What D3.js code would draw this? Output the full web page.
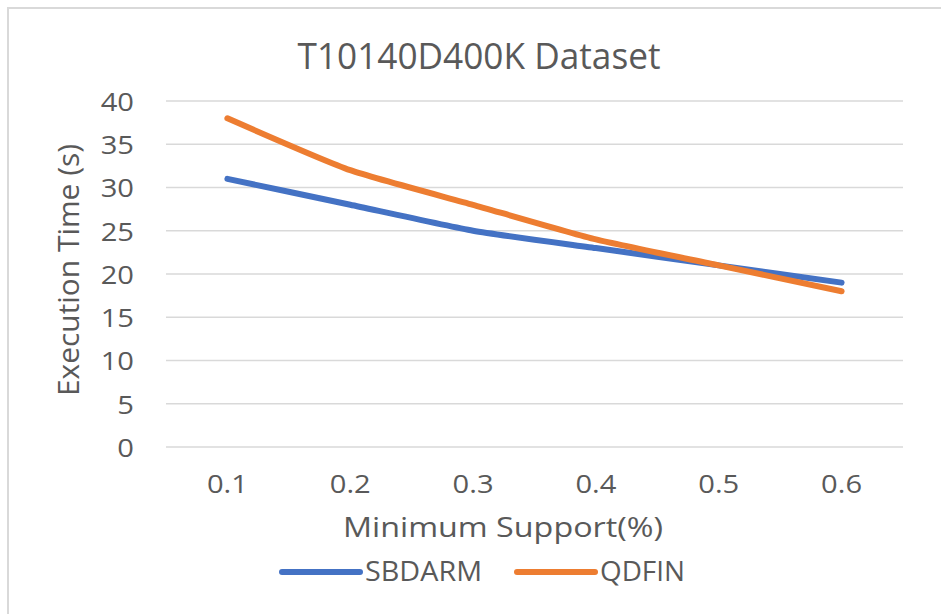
<!DOCTYPE html>
<html>
<head>
<meta charset="utf-8">
<script src="https://cdn.jsdelivr.net/npm/d3@7"></script>
<style>
  html, body { margin: 0; padding: 0; background: #fff; }
  svg { display: block; }
  text { font-family: "Open Sans", "Noto Sans", sans-serif; fill: #595959; }
</style>
</head>
<body>
<script>
// Chart data
const supports = ["0.1", "0.2", "0.3", "0.4", "0.5", "0.6"];
const sbdarm = [31, 28, 25, 23, 21, 19];
const qdfin = [38, 32, 28, 24, 21, 18];
const yTicks = [0, 5, 10, 15, 20, 25, 30, 35, 40];
const seriesNames = ["SBDARM", "QDFIN"];
const seriesColors = ["#4472C4", "#ED7D31"];

const W = 941, H = 614;
const plot = { left: 166, right: 903, top: 101, bottom: 447 };

const svg = d3.select("body").append("svg")
  .attr("width", W).attr("height", H);

// Chart-area frame (top and left edges visible)
svg.append("path")
  .attr("d", `M8,${H} L8,8 L${W},8`)
  .attr("fill", "none")
  .attr("stroke", "#d9d9d9")
  .attr("stroke-width", 2);

const x = d3.scaleBand().domain(supports).range([plot.left, plot.right]);
const y = d3.scaleLinear().domain([0, 40]).range([plot.bottom, plot.top]);

// stretch a text element horizontally to a given factor of its natural width
function widen(sel, k) {
  sel.each(function () {
    const w = this.getComputedTextLength();
    d3.select(this).attr("textLength", w * k).attr("lengthAdjust", "spacingAndGlyphs");
  });
}

// Gridlines
svg.append("g").selectAll("line").data(yTicks).join("line")
  .attr("x1", plot.left).attr("x2", plot.right)
  .attr("y1", d => y(d)).attr("y2", d => y(d))
  .attr("stroke", "#d9d9d9").attr("stroke-width", 1.5);

// Y axis labels
const yAxis = svg.append("g")
  .attr("transform", `translate(${plot.left - 32},0)`)
  .call(d3.axisLeft(y).tickValues(yTicks).tickSize(0).tickPadding(0));
yAxis.select(".domain").remove();
yAxis.selectAll("text")
  .attr("font-size", 26)
  .attr("fill", "#595959")
  .attr("font-family", "Open Sans, Noto Sans, sans-serif")
  .attr("dy", "0.36em")
  .call(widen, 1.12);

// X axis labels
const xAxis = svg.append("g")
  .attr("transform", `translate(0,${plot.bottom + 28})`)
  .call(d3.axisBottom(x).tickSize(0).tickPadding(0));
xAxis.select(".domain").remove();
xAxis.selectAll("text")
  .attr("font-size", 26)
  .attr("fill", "#595959")
  .attr("font-family", "Open Sans, Noto Sans, sans-serif")
  .attr("dy", "0.71em")
  .call(widen, 1.12);

// Series lines (lightly smoothed)
const line = d3.line()
  .x((d, i) => x(supports[i]) + x.bandwidth() / 2)
  .y(d => y(d))
  .curve(d3.curveCardinal.tension(0.45));

[sbdarm, qdfin].forEach((vals, i) => {
  svg.append("path")
    .datum(vals)
    .attr("d", line)
    .attr("fill", "none")
    .attr("stroke", seriesColors[i])
    .attr("stroke-width", 6)
    .attr("stroke-linecap", "round")
    .attr("stroke-linejoin", "round");
});

// Title
svg.append("text")
  .attr("x", 479).attr("y", 69)
  .attr("text-anchor", "middle")
  .attr("font-size", 36)
  .attr("textLength", 363).attr("lengthAdjust", "spacingAndGlyphs")
  .text("T10140D400K Dataset");

// Axis titles
svg.append("text")
  .attr("x", 503).attr("y", 537)
  .attr("text-anchor", "middle")
  .attr("font-size", 28)
  .attr("textLength", 320).attr("lengthAdjust", "spacingAndGlyphs")
  .text("Minimum Support(%)");

svg.append("text")
  .attr("transform", "translate(79,270) rotate(-90)")
  .attr("text-anchor", "middle")
  .attr("font-size", 29.5)
  .attr("textLength", 252).attr("lengthAdjust", "spacingAndGlyphs")
  .text("Execution Time (s)");

// Legend
const legendItems = [
  { x0: 282, x1: 360, tx: 365, len: 117 },
  { x0: 517, x1: 595, tx: 600, len: 85 }
];
const lg = svg.append("g");
legendItems.forEach((it, i) => {
  lg.append("line")
    .attr("x1", it.x0).attr("x2", it.x1)
    .attr("y1", 572).attr("y2", 572)
    .attr("stroke", seriesColors[i])
    .attr("stroke-width", 6)
    .attr("stroke-linecap", "round");
  lg.append("text")
    .attr("x", it.tx).attr("y", 581)
    .attr("font-size", 26.5)
    .attr("textLength", it.len).attr("lengthAdjust", "spacingAndGlyphs")
    .text(seriesNames[i]);
});
</script>
</body>
</html>
